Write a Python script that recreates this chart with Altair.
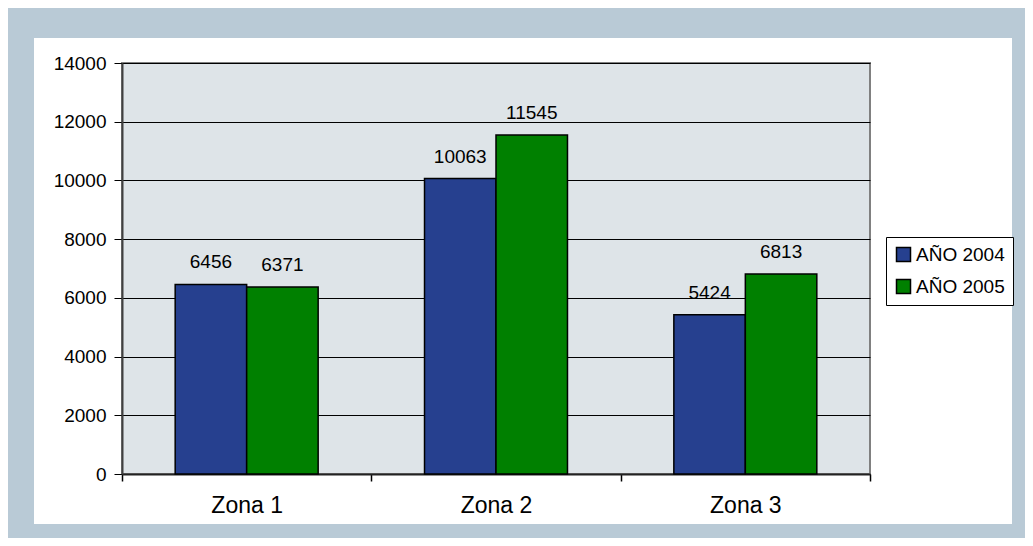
import altair as alt
import pandas as pd

# ---- data ----
zonas = ["Zona 1", "Zona 2", "Zona 3"]
series = ["AÑO 2004", "AÑO 2005"]
valores_2004 = [6456, 10063, 5424]
valores_2005 = [6371, 11545, 6813]
y_ticks = [0, 2000, 4000, 6000, 8000, 10000, 12000, 14000]
colores = ["#26408F", "#008000"]

rows = []
for z, a, b in zip(zonas, valores_2004, valores_2005):
    rows.append({"zona": z, "serie": series[0], "valor": a})
    rows.append({"zona": z, "serie": series[1], "valor": b})
df = pd.DataFrame(rows)

FONT = "Liberation Sans"
W, H = 748, 411

x = alt.X(
    "zona:N", sort=zonas, title=None,
    scale=alt.Scale(paddingInner=0, paddingOuter=0),
    axis=alt.Axis(labelAngle=0, labelFontSize=23, labelColor="black", labelFont=FONT,
                  labelPadding=13, tickBand="extent", tickSize=7, tickColor="black",
                  tickWidth=1.5, domainColor="#222222", domainWidth=2, grid=False),
)
xo = alt.XOffset("serie:N", sort=series,
                 scale=alt.Scale(paddingInner=0, paddingOuter=0.744))
y = alt.Y(
    "valor:Q", title=None,
    scale=alt.Scale(domain=[0, 14000], nice=False),
    axis=alt.Axis(values=y_ticks, format="d", labelFontSize=19, labelColor="black",
                  labelFont=FONT, tickSize=8, labelPadding=8, tickColor="black",
                  gridColor="black", gridWidth=1, domainColor="#404040", domainWidth=2),
)
color = alt.Color(
    "serie:N", sort=series,
    scale=alt.Scale(domain=series, range=colores),
    legend=alt.Legend(title=None, orient="none", legendX=764, legendY=174,
                      padding=8, strokeColor="black", fillColor="white",
                      labelFontSize=19, labelFont=FONT, labelColor="black",
                      labelOffset=3, rowPadding=11, symbolType="square",
                      symbolSize=196, symbolStrokeColor="black",
                      symbolStrokeWidth=1.5, symbolOpacity=1),
)

frame = alt.Chart(alt.Data(values=[{}])).mark_rect(
    filled=False, stroke="#B9CAD6", strokeWidth=60
).encode(
    x=alt.value(-118), x2=alt.value(920), y=alt.value(-55), y2=alt.value(491)
)

bars = alt.Chart(df).mark_bar(stroke="black", strokeWidth=1.5).encode(
    x=x, xOffset=xo, y=y, color=color
)

labels = alt.Chart(df).mark_text(
    baseline="alphabetic", dy=-16, fontSize=19, font=FONT, color="black"
).encode(
    x=x, xOffset=xo, y=y, text=alt.Text("valor:Q", format="d")
)

chart = alt.layer(frame, bars, labels).properties(
    width=W, height=H,
    autosize=alt.AutoSizeParams(type="none"),
    padding={"left": 114, "top": 55, "right": 155, "bottom": 64},
    background="white",
).configure_view(
    fill="#DEE4E8", stroke="#808080", strokeWidth=2
).configure_axis(
    labelFont=FONT
)

chart.save("out.html", embed_options={"renderer": "svg", "actions": False})
